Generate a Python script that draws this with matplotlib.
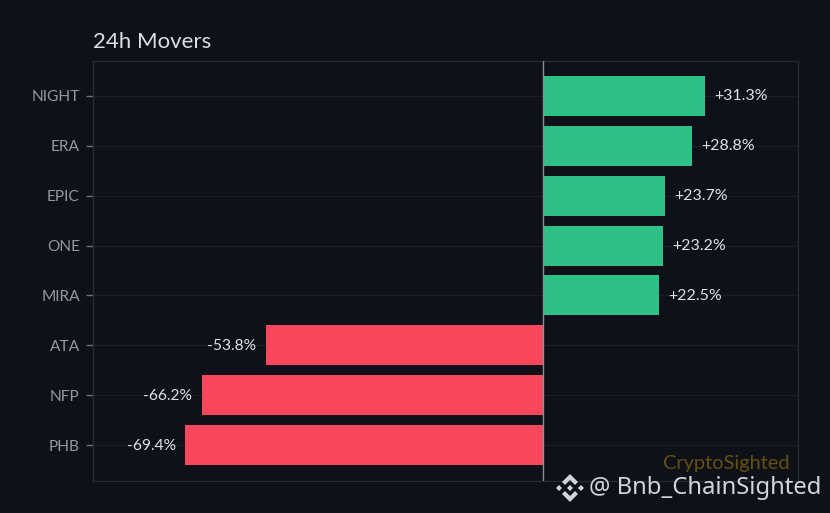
import matplotlib
matplotlib.use('Agg')
import matplotlib.pyplot as plt
from matplotlib.patches import Polygon

symbols = ['NIGHT', 'ERA', 'EPIC', 'ONE', 'MIRA', 'ATA', 'NFP', 'PHB']
changes = [31.3, 28.8, 23.7, 23.2, 22.5, -53.8, -66.2, -69.4]

BG = '#0e1118'
GREEN = '#2fc088'
RED = '#fb475e'
EDGE = '#262a33'

plt.rcParams['font.family'] = ['Lato', 'DejaVu Sans']

fig = plt.figure(figsize=(8.3, 5.13), dpi=100, facecolor=BG)
ax = fig.add_axes([93 / 830, 1 - 481 / 513, 705 / 830, 420 / 513], facecolor=BG)

y = list(range(len(symbols)))
colors = [GREEN if c > 0 else RED for c in changes]
ax.grid(axis='y', color='#191d25', linewidth=1)
ax.set_axisbelow(True)
ax.barh(y, changes, height=0.8, color=colors, zorder=2)
ax.axvline(0, color='#8b8f96', linewidth=1, zorder=3)

for i, c in enumerate(changes):
    if c > 0:
        ax.text(c + 1.8, i + 0.01, f'+{c:.1f}%', va='center', ha='left', color='#dfe1e4',
                fontsize=11.5, zorder=4)
    else:
        ax.text(c - 1.9, i + 0.01, f'{c:.1f}%', va='center', ha='right', color='#dfe1e4',
                fontsize=11.2, zorder=4)

ax.set_yticks(y)
ax.set_yticklabels(symbols)
ax.set_ylim(7.72, -0.70)
ax.set_xlim(-87.3, 49.4)
ax.set_xticks([])
ax.tick_params(axis='y', labelcolor='#94989e', labelsize=11.2, length=5, width=1, pad=4.5, color='#6d7178')
for s in ax.spines.values():
    s.set_color(EDGE)
    s.set_linewidth(1)

fig.text(93 / 830, 1 - 42 / 513, '24h Movers', color='#dcdee1', fontsize=16, va='center', ha='left')
fig.text(790 / 830, 1 - 463 / 513, 'CryptoSighted', color='#65500f', fontsize=14.4, va='center', ha='right')
fig.text(589 / 830, 1 - 488 / 513, '@ Bnb_ChainSighted', color='#d2d4d7', fontsize=17.2,
         family=['Noto Sans', 'DejaVu Sans'], va='center', ha='left', zorder=10)

# binance logo, in pixels of the figure
def logo_part(pts):
    verts = [(px / 830, 1 - py / 513) for px, py in pts]
    fig.add_artist(Polygon(verts, closed=True, transform=fig.transFigure, facecolor='#d2d4d7', edgecolor='none', zorder=10))

cx, cy = 570, 488
logo_part([(cx - 3, cy), (cx, cy - 3), (cx + 3, cy), (cx, cy + 3)])
logo_part([(cx - 14, cy), (cx - 11, cy - 3), (cx - 8, cy), (cx - 11, cy + 3)])
logo_part([(cx + 14, cy), (cx + 11, cy - 3), (cx + 8, cy), (cx + 11, cy + 3)])
logo_part([(cx, cy - 14), (cx + 8, cy - 6), (cx + 5, cy - 3), (cx, cy - 8), (cx - 5, cy - 3), (cx - 8, cy - 6)])
logo_part([(cx, cy + 14), (cx + 8, cy + 6), (cx + 5, cy + 3), (cx, cy + 8), (cx - 5, cy + 3), (cx - 8, cy + 6)])

fig.savefig('out.png', dpi=100, facecolor=BG)
